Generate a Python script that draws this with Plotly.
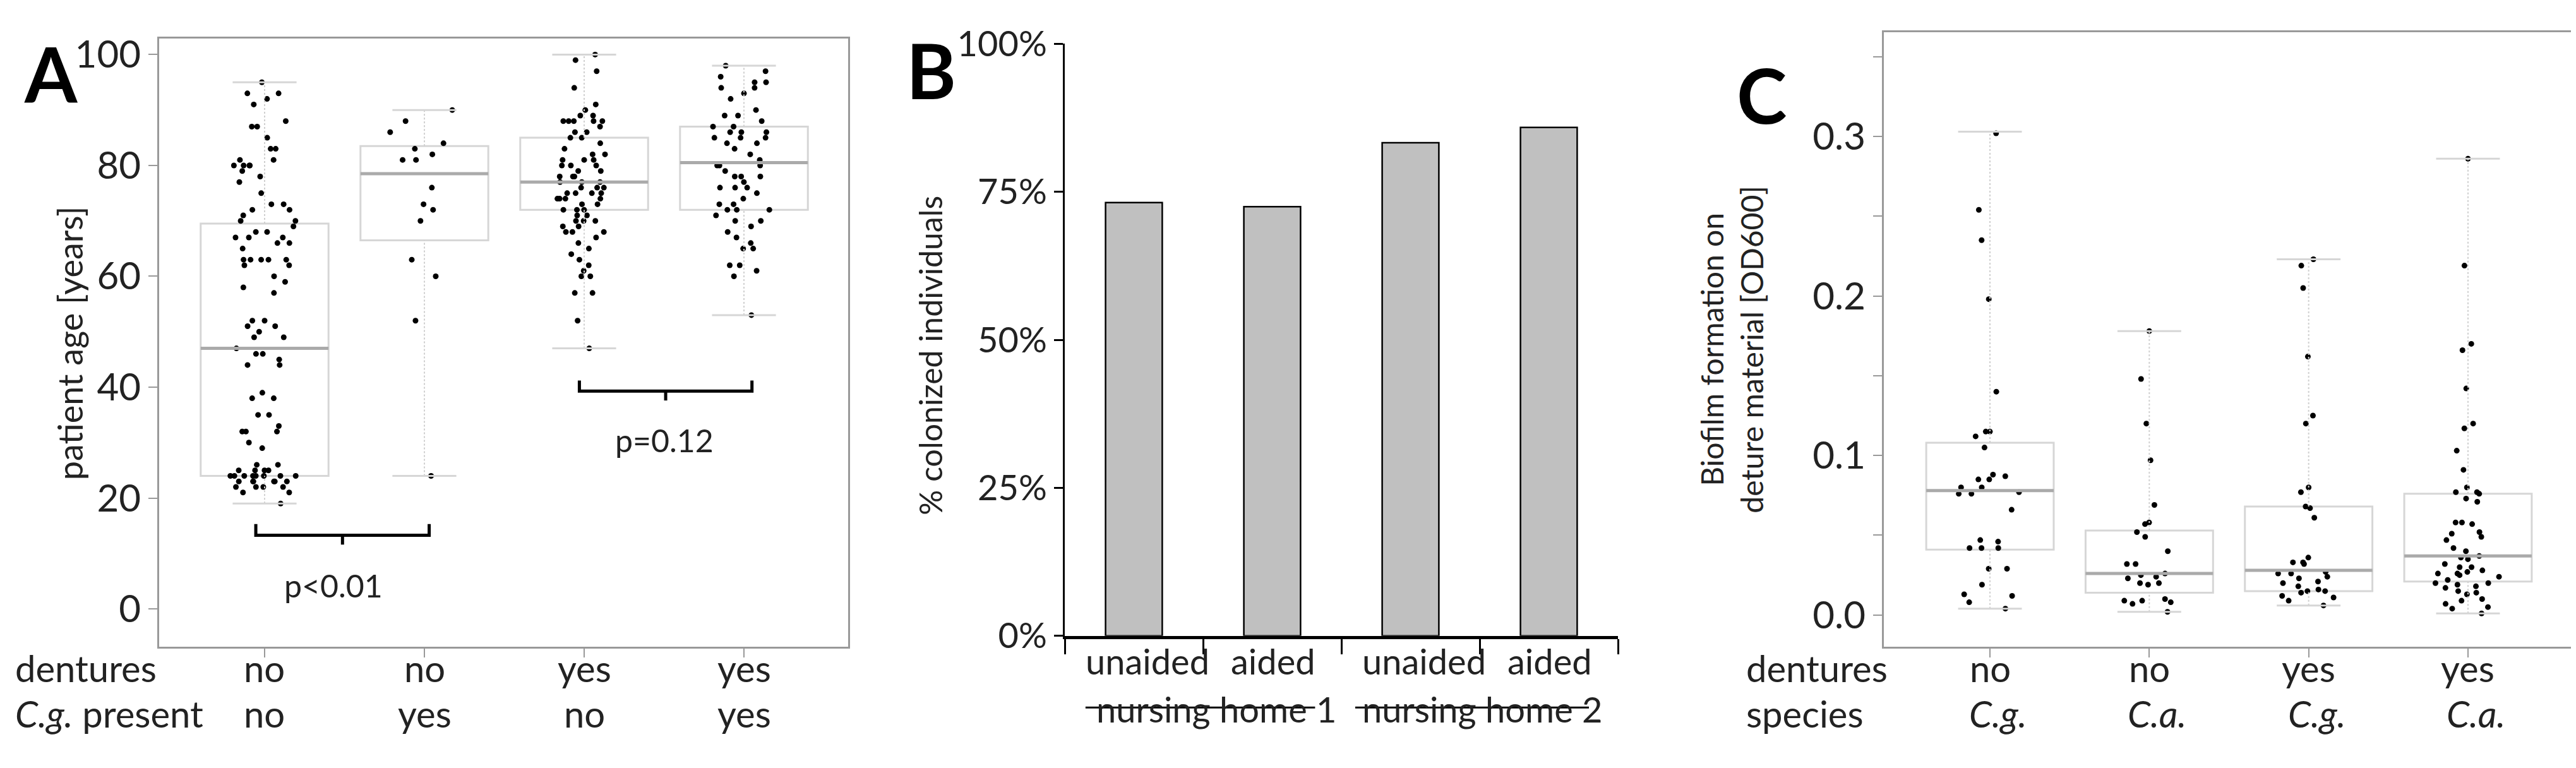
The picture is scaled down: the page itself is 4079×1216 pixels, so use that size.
import plotly.graph_objects as go

# ---------------- Panel A data ----------------
A_dentures = ["no", "no", "yes", "yes"]
A_cg = ["no", "yes", "no", "yes"]
A_g1 = [95, 93, 93, 92, 91, 88, 87, 87, 85, 83, 83, 81, 81, 80, 80, 80, 80, 79, 78, 77, 75, 73, 73, 72, 72, 71, 70, 70, 69, 68, 68, 67, 67, 67, 66, 66, 65, 63, 63, 63, 63, 63, 62, 62, 60, 59, 58, 57, 52, 52, 51, 51, 50, 49, 49, 47, 46, 46, 45, 44, 44, 39, 38, 38, 35, 35, 33, 32, 32, 32, 30, 29, 26, 26, 25, 25, 25, 25, 24, 24, 24, 24, 24, 24, 24, 24, 23, 23, 23, 23, 23, 23, 22, 22, 22, 22, 21, 21, 19]
A_g2 = [90, 88, 86, 84, 83, 82, 81, 81, 76, 73, 72, 70, 63, 60, 52, 24]
A_g3 = [100, 99, 97, 94, 91, 90, 89, 89, 88, 88, 88, 88, 88, 87, 86, 86, 85, 85, 84, 83, 82, 82, 81, 81, 81, 80, 80, 80, 79, 79, 78, 78, 78, 77, 77, 77, 76, 76, 76, 75, 75, 75, 75, 74, 74, 74, 74, 73, 73, 72, 72, 72, 71, 71, 70, 70, 70, 69, 69, 68, 68, 68, 67, 66, 65, 64, 63, 62, 61, 60, 60, 57, 57, 52, 47]
A_g4 = [98, 97, 96, 95, 95, 94, 94, 93, 92, 90, 89, 89, 88, 87, 87, 86, 86, 86, 85, 85, 85, 84, 84, 83, 82, 81, 80, 80, 80, 79, 78, 78, 78, 77, 76, 76, 76, 75, 74, 73, 73, 72, 72, 72, 71, 70, 70, 69, 68, 67, 66, 65, 65, 62, 62, 61, 60, 53]
A_q1 = [24, 66.5, 72, 72]
A_med = [47, 78.5, 77, 80.5]
A_q3 = [69.5, 83.5, 85, 87]
A_lo = [19, 24, 47, 53]
A_hi = [95, 90, 100, 98]

# ---------------- Panel B data ----------------
B_cats = ["unaided", "aided", "unaided", "aided"]
B_homes = ["nursing home 1", "nursing home 2"]
B_vals = [0.732, 0.725, 0.833, 0.859]

# ---------------- Panel C data ----------------
C_dentures = ["no", "no", "yes", "yes"]
C_species = ["C.g.", "C.a.", "C.g.", "C.a."]
C_g1 = [0.302, 0.254, 0.235, 0.198, 0.14, 0.115, 0.115, 0.112, 0.105, 0.088, 0.087, 0.085, 0.085, 0.08, 0.08, 0.077, 0.076, 0.076, 0.066, 0.047, 0.046, 0.042, 0.042, 0.042, 0.029, 0.029, 0.019, 0.013, 0.012, 0.008, 0.004]
C_g2 = [0.178, 0.148, 0.12, 0.097, 0.069, 0.058, 0.057, 0.052, 0.049, 0.04, 0.032, 0.032, 0.026, 0.025, 0.024, 0.023, 0.02, 0.02, 0.019, 0.01, 0.009, 0.009, 0.008, 0.007, 0.002]
C_g3 = [0.223, 0.219, 0.205, 0.162, 0.125, 0.12, 0.08, 0.077, 0.068, 0.067, 0.061, 0.036, 0.033, 0.033, 0.032, 0.027, 0.026, 0.026, 0.024, 0.023, 0.021, 0.02, 0.018, 0.016, 0.015, 0.015, 0.014, 0.012, 0.011, 0.009, 0.006]
C_g4 = [0.286, 0.219, 0.17, 0.166, 0.142, 0.12, 0.117, 0.103, 0.091, 0.08, 0.077, 0.077, 0.076, 0.073, 0.071, 0.058, 0.058, 0.057, 0.052, 0.051, 0.049, 0.047, 0.042, 0.04, 0.037, 0.036, 0.035, 0.032, 0.03, 0.03, 0.028, 0.027, 0.026, 0.026, 0.025, 0.024, 0.022, 0.02, 0.02, 0.019, 0.018, 0.017, 0.015, 0.014, 0.013, 0.01, 0.009, 0.007, 0.005, 0.004, 0.001]
C_q1 = [0.041, 0.014, 0.015, 0.021]
C_med = [0.078, 0.026, 0.028, 0.037]
C_q3 = [0.108, 0.053, 0.068, 0.076]
C_lo = [0.004, 0.002, 0.006, 0.001]
C_hi = [0.303, 0.178, 0.223, 0.286]

FONT = "Lato"
W, H = 4079, 1216
fig = go.Figure()
BOXW = 0.8
CAPW = 0.4


def box_panel(xa, ya, groups, q1, med, q3, lo, hi):
    for i in range(4):
        fig.add_trace(go.Box(x=[i], q1=[q1[i]], median=[med[i]], q3=[q3[i]],
                             lowerfence=[q1[i]], upperfence=[q3[i]], width=BOXW,
                             line=dict(color="#d6d6d6", width=3), fillcolor="rgba(255,255,255,0)",
                             boxpoints=False, xaxis=xa, yaxis=ya, showlegend=False, whiskerwidth=0))
        fig.add_trace(go.Scatter(x=[i, i, None, i, i], y=[q3[i], hi[i], None, lo[i], q1[i]], mode="lines",
                                 line=dict(color="#d0d0d0", width=2, dash="dot"), xaxis=xa, yaxis=ya, showlegend=False))
        fig.add_trace(go.Scatter(x=[i - CAPW / 2, i + CAPW / 2, None, i - CAPW / 2, i + CAPW / 2],
                                 y=[hi[i], hi[i], None, lo[i], lo[i]], mode="lines",
                                 line=dict(color="#d6d6d6", width=3), xaxis=xa, yaxis=ya, showlegend=False))
        fig.add_trace(go.Scatter(x=[i - BOXW / 2, i + BOXW / 2], y=[med[i], med[i]], mode="lines",
                                 line=dict(color="#aaaaaa", width=5), xaxis=xa, yaxis=ya, showlegend=False))
    for i, g in enumerate(groups):
        fig.add_trace(go.Box(x=[i] * len(g), y=g, width=BOXW, boxpoints="all", jitter=0.55, pointpos=0,
                             line=dict(width=0, color="rgba(0,0,0,0)"), fillcolor="rgba(0,0,0,0)",
                             marker=dict(color="black", size=9, outliercolor="black",
                                         line=dict(width=0, color="black", outliercolor="black", outlierwidth=0)),
                             xaxis=xa, yaxis=ya, showlegend=False))


box_panel("x", "y", [A_g1, A_g2, A_g3, A_g4], A_q1, A_med, A_q3, A_lo, A_hi)
box_panel("x3", "y3", [C_g1, C_g2, C_g3, C_g4], C_q1, C_med, C_q3, C_lo, C_hi)

fig.add_trace(go.Bar(x=list(range(4)), y=B_vals, width=0.41, marker=dict(color="#c0c0c0", line=dict(color="black", width=2.5)),
                     xaxis="x2", yaxis="y2", showlegend=False))

# Brackets panel A
for (xa_, xb_, yl, yt, yn) in [(-0.055, 1.03, 13.3, 15.3, 11.6), (1.97, 3.05, 39.3, 41.2, 37.6)]:
    xm = (xa_ + xb_) / 2
    fig.add_trace(go.Scatter(x=[xa_, xa_, xb_, xb_, None, xm, xm], y=[yt, yl, yl, yt, None, yl, yn], mode="lines",
                             line=dict(color="black", width=5), xaxis="x", yaxis="y", showlegend=False))

TICKF = dict(size=60, family=FONT, color="#222")
frame = dict(showline=True, mirror=True, linecolor="#999999", linewidth=3, showgrid=False, zeroline=False,
             ticks="outside", tickcolor="#999999", tickwidth=2, ticklen=14, tickfont=TICKF)

fig.update_layout(
    width=W, height=H, margin=dict(l=0, r=0, t=0, b=0), paper_bgcolor="white", plot_bgcolor="white",
    boxmode="overlay", font=dict(family=FONT, color="#222"),
    xaxis=dict(frame, domain=[244 / W, 1335 / W], range=[-0.66, 3.652], tickvals=[0, 1, 2, 3], showticklabels=False),
    yaxis=dict(frame, domain=[1 - 1038 / H, 1 - 19 / H], range=[-6.8, 102.9], tickvals=[0, 20, 40, 60, 80, 100]),
    xaxis2=dict(domain=[1678 / W, 2554 / W], range=[-0.5, 3.5], showline=True, linecolor="black", linewidth=5,
                ticks="outside", tickvals=[-0.5, 0.5, 1.5, 2.5, 3.5], ticklen=24, tickwidth=3, tickcolor="black",
                showticklabels=False, showgrid=False, zeroline=False, anchor="y2"),
    yaxis2=dict(domain=[1 - 1020 / H, 1 - 28 / H], range=[0, 1], showline=True, linecolor="black", linewidth=3,
                ticks="outside", ticklen=14, tickwidth=3, tickcolor="black", tickvals=[0, 0.25, 0.5, 0.75, 1],
                tickformat=".0%", showgrid=False, zeroline=False, anchor="x2", tickfont=dict(size=56, family=FONT, color="#222")),
    xaxis3=dict(frame, domain=[2975 / W, 4066 / W], range=[-0.666, 3.658], tickvals=[0, 1, 2, 3], showticklabels=False, anchor="y3"),
    yaxis3=dict(frame, domain=[1 - 1038 / H, 1 - 8 / H], range=[-0.0198, 0.3655], anchor="x3",
                tickvals=[0, 0.05, 0.1, 0.15, 0.2, 0.25, 0.3, 0.35], ticktext=["0.0", "", "0.1", "", "0.2", "", "0.3", ""]),
)

ann = []
def A(**k):
    d = dict(showarrow=False, font=dict(size=58, family=FONT, color="#222"))
    f = k.pop("font", None)
    d.update(k)
    if f:
        d["font"] = dict(d["font"], **f)
    ann.append(d)

# panel letters
A(x=28 / W, y=1, xref="paper", yref="paper", text="<b>A</b>", xanchor="left", yanchor="top", font=dict(size=120, color="black"))
A(x=1425 / W, y=1.005, xref="paper", yref="paper", text="<b>B</b>", xanchor="left", yanchor="top", font=dict(size=120, color="black"))
A(x=2740 / W, y=1 - 35 / H, xref="paper", yref="paper", text="<b>C</b>", xanchor="left", yanchor="top", font=dict(size=120, color="black"))
# axis titles
A(x=68 / W, y=1 - 530 / H, xref="paper", yref="paper", text="patient age [years]", textangle=-90, font=dict(size=54))
A(x=1465 / W, y=1 - 550 / H, xref="paper", yref="paper", text="% colonized individuals", textangle=-90, font=dict(size=50))
A(x=2795 / W, y=1 - 540 / H, xref="paper", yref="paper", text="Biofilm formation on<br>deture material [OD600]", textangle=-90, font=dict(size=48))
# p-values
A(x=0.43, y=4.2, xref="x", yref="y", text="p<0.01", font=dict(size=50))
A(x=2.5, y=30.4, xref="x", yref="y", text="p=0.12", font=dict(size=50))
# category labels A and C
R1, R2 = 1 - 1112 / H, 1 - 1188 / H
A(x=14 / W, y=R1, xref="paper", yref="paper", text="dentures", xanchor="left")
A(x=14 / W, y=R2, xref="paper", yref="paper", text="<i>C.g.</i> present", xanchor="left")
A(x=2755 / W, y=R1, xref="paper", yref="paper", text="dentures", xanchor="left")
A(x=2755 / W, y=R2, xref="paper", yref="paper", text="species", xanchor="left")
for i in range(4):
    A(x=i, y=R1, xref="x", yref="paper", text=A_dentures[i])
    A(x=i, y=R2, xref="x", yref="paper", text=A_cg[i])
    A(x=i, y=R1, xref="x3", yref="paper", text=C_dentures[i])
    A(x=i + 0.05, y=R2, xref="x3", yref="paper", text="<i>" + C_species[i] + "</i>")
    A(x=i + 0.1 * (1 if i % 2 == 0 else 0.07), y=1 - 1100 / H, xref="x2", yref="paper", text=B_cats[i], font=dict(size=56))
A(x=0.6, y=1 - 1180 / H, xref="x2", yref="paper", text=B_homes[0], font=dict(size=56))
A(x=2.52, y=1 - 1180 / H, xref="x2", yref="paper", text=B_homes[1], font=dict(size=56))
fig.update_layout(annotations=ann)

for x0, x1 in [(-0.35, 1.31), (1.6, 3.29)]:
    fig.add_shape(type="line", xref="x2", yref="paper", x0=x0, x1=x1, y0=1 - 1140 / H, y1=1 - 1140 / H,
                  line=dict(color="black", width=3))

fig.write_html("out.html")
